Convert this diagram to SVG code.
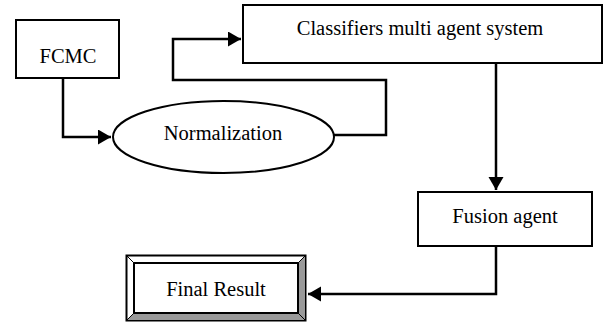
<svg xmlns="http://www.w3.org/2000/svg" width="604" height="323" viewBox="0 0 604 323">
<style>
.box{fill:#fff;stroke:#000;stroke-width:2}
.t{font-family:"Liberation Serif","Times New Roman",serif;font-size:20.5px;fill:#000;text-anchor:middle}
.c{fill:none;stroke:#000;stroke-width:2.5;stroke-linejoin:miter}
</style>
<defs>
<marker id="ah" markerUnits="userSpaceOnUse" markerWidth="14" markerHeight="16" refX="13" refY="7.5" orient="auto">
<path d="M0,0 L13,7.5 L0,15 Z" fill="#000"/>
</marker>
</defs>
<rect width="604" height="323" fill="#fff"/>
<g id="connectors">
<path class="c" d="M63,78 V137 H111" marker-end="url(#ah)"/>
<path class="c" d="M334,135 H386 V80 H173 V39 H241" marker-end="url(#ah)"/>
<path class="c" d="M496,63 V190" marker-end="url(#ah)"/>
<path class="c" d="M496,246 V294 H308" marker-end="url(#ah)"/>
</g>
<g id="fcmc">
<rect class="box" x="16" y="20" width="103" height="58"/>
<text class="t" x="68" y="63">FCMC</text>
</g>
<g id="normalization">
<ellipse class="box" cx="223.5" cy="137" rx="110.5" ry="36"/>
<text class="t" x="223" y="140">Normalization</text>
</g>
<g id="classifiers">
<rect class="box" x="243" y="5" width="359" height="58"/>
<text class="t" x="420" y="35">Classifiers multi agent system</text>
</g>
<g id="fusion">
<rect class="box" x="418" y="192" width="174" height="54"/>
<text class="t" x="505" y="223">Fusion agent</text>
</g>
<g id="final">
<rect x="126.5" y="255.5" width="179" height="65" fill="#fff" stroke="#000" stroke-width="2"/>
<polygon points="305.5,255.5 298,263 298,313 305.5,320.5" fill="#999" stroke="#000" stroke-width="1"/>
<polygon points="126.5,320.5 134,313 298,313 305.5,320.5" fill="#999" stroke="#000" stroke-width="1"/>
<line x1="126.5" y1="255.5" x2="134" y2="263" stroke="#000" stroke-width="1"/>
<rect x="134" y="263" width="164" height="50" fill="#fff" stroke="#000" stroke-width="2"/>
<text class="t" x="216" y="296">Final Result</text>
</g>
</svg>
